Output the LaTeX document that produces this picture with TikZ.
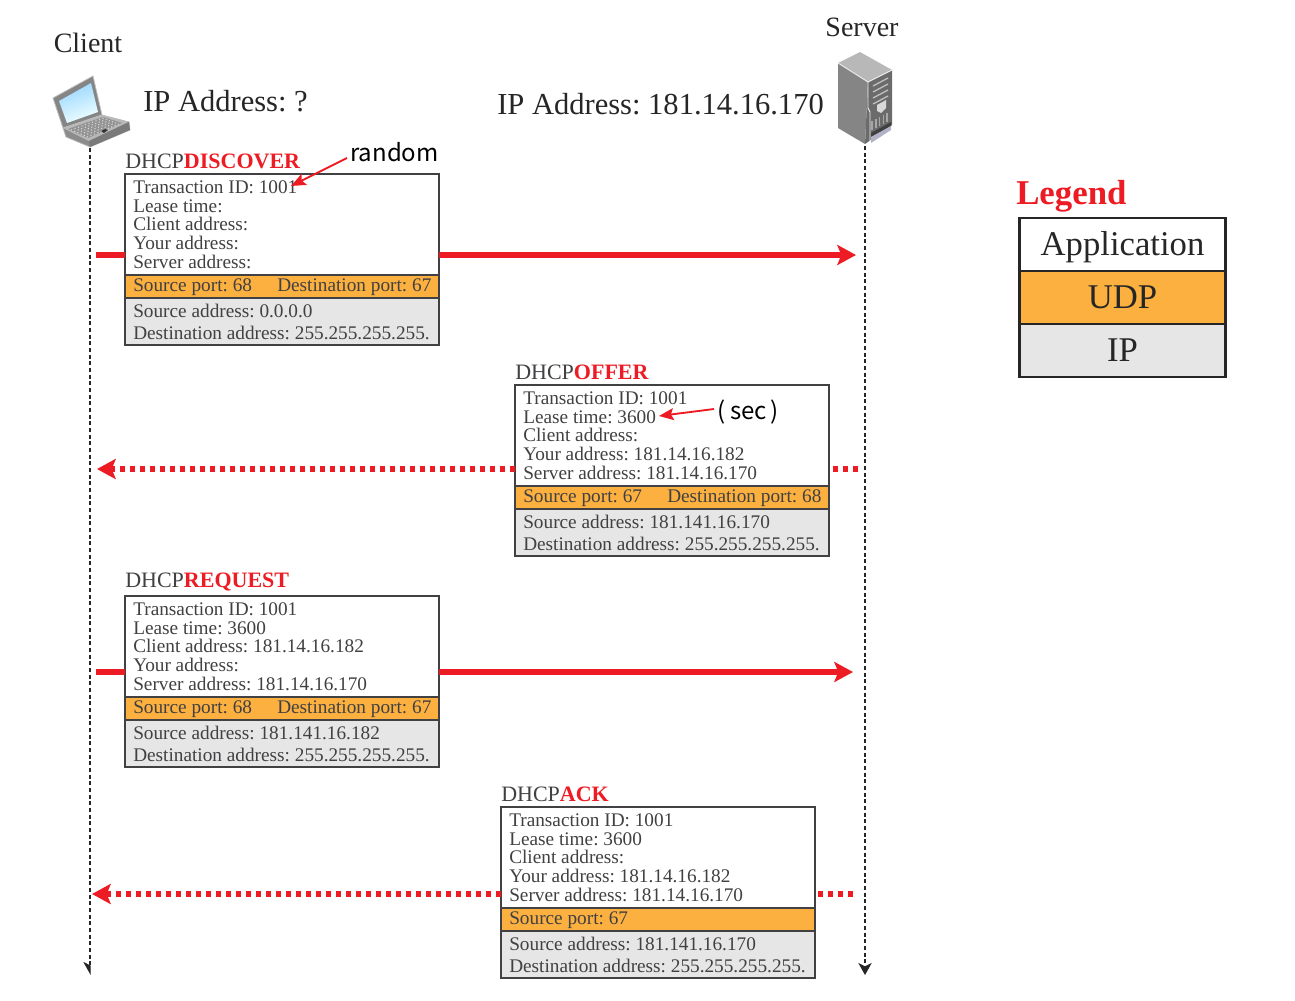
\documentclass[tikz,border=0pt]{standalone}
\usepackage{fontspec}
\setmainfont{Liberation Serif}
\newfontfamily\notefont{Noto Sans CJK JP}
\frenchspacing
\usetikzlibrary{arrows.meta,shadings}
\definecolor{msgred}{RGB}{237,28,36}
\definecolor{udporange}{RGB}{251,176,64}
\definecolor{ipgray}{RGB}{230,230,230}
\definecolor{inkgray}{RGB}{65,64,66}
\newcommand{\bodyfs}{\fontsize{14.45pt}{15pt}\selectfont}
\newcommand{\titlefs}{\fontsize{16.5pt}{18pt}\selectfont}
\newcommand{\MsgBox}[8]{%
  % #1 name, #2 x, #3 y, #4 title word, #5 app lines block, #6 src, #7 dst, #8 ip lines
  \begin{scope}[shift={(#2,#3)}]
    \node[framebox,minimum height={101*0.75pt},fill=white] (#1app) at (0,0) {};
    \node[framebox,minimum height={23*0.75pt},fill=udporange] (#1udp) at (#1app.south west) {};
    \node[framebox,minimum height={47*0.75pt},fill=ipgray] (#1ip) at (#1udp.south west) {};
    \node[msgtitle] (#1title) at (0,-5) {DHCP\textcolor{msgred}{\textbf{#4}}};
    \foreach \yy/\tt [count=\i] in {#5} {\node[msgline] (#1a\i) at (8,\yy) {\tt};}
    \node[msgline] (#1src) at (8,113.5) {#6};
    \node[msgline] (#1dst) at (152,113.5) {#7};
    \foreach \yy/\tt [count=\i] in {#8} {\node[msgline] (#1i\i) at (8,\yy) {\tt};}
  \end{scope}}
\tikzset{
  x=0.75pt,y=-0.75pt,
  framebox/.style={draw=inkgray,line width=1.3pt,anchor=north west,minimum width={314*0.75pt},inner sep=0pt,outer sep=0pt},
  msgtitle/.style={anchor=south west,inner sep=0pt,text=inkgray,font=\titlefs},
  msgline/.style={anchor=west,inner sep=0pt,text=inkgray,font=\bodyfs},
  headlabel/.style={inner sep=0pt,text=black!85},
  lifeline/.style={dash pattern=on 3pt off 2pt,line width=0.9pt,black!85},
  lifehead/.style={-{Stealth[length=9pt,width=10pt,inset=2.5pt]}},
  lifehalf/.style={-{Stealth[length=9pt,width=10pt,inset=2.5pt,harpoon,swap]}},
  reqline/.style={msgred,line width=3.9pt},
  reqarrow/.style={reqline,-{Stealth[length=14pt,width=15pt,inset=3pt]}},
  repline/.style={msgred,line width=3.9pt,dash pattern=on 3.9pt off 3.6pt},
  reparrow/.style={repline,-{Stealth[length=14pt,width=15pt,inset=3pt]}},
  notearrow/.style={msgred,line width=1.4pt,-{Stealth[length=11pt,width=9pt,inset=2pt]}},
  notelabel/.style={inner sep=0pt,font=\notefont\fontsize{18pt}{20pt}\selectfont,text=black},
  legendrow/.style={draw=black!85,line width=1.6pt,minimum width={206*0.75pt},minimum height={53*0.75pt},inner sep=0pt,outer sep=0pt,font=\fontsize{26pt}{28pt}\selectfont,text=black!85,text height=17pt,text depth=0pt},
}
\begin{document}
\begin{tikzpicture}
\useasboundingbox (0,0) rectangle (1295,1000);
\fill[white] (0,0) rectangle (1295,1000);

% ---- labels
\node[headlabel,font=\fontsize{21pt}{23pt}\selectfont] (clientlab) at (88,43) {Client};
\node[headlabel,font=\fontsize{21pt}{23pt}\selectfont] (serverlab) at (862,27) {Server};
\node[headlabel,anchor=west,font=\fontsize{22.9pt}{25pt}\selectfont] (clientip) at (143,101) {IP Address: ?};
\node[headlabel,anchor=west,font=\fontsize{22.9pt}{25pt}\selectfont] (serverip) at (497,104) {IP Address: 181.14.16.170};

% ---- laptop
\coordinate (lapfoot) at (90,148);
\filldraw[draw=black!25,fill=black!45,line width=.5pt] (63,128) -- (102,115) -- (129,122) -- (130,130) -- (90,147) -- (66,137) -- cycle;
\fill[black!28] (63,128) -- (102,115) -- (129,122) -- (89,141) -- cycle;
\fill[black!52] (89,141) -- (129,122) -- (130,130) -- (90,147) -- cycle;
\fill[black!42] (68,129) -- (103,117) -- (122,123) -- (88,138) -- cycle;
\foreach \t in {0,0.2,0.4,0.6,0.8,1}
  \draw[black!15,line width=.8pt,dotted] ({71+\t*16},{130+\t*7}) -- ({104+\t*15},{118+\t*6});
\fill[black!80] (101,131) -- (105,129) -- (108,130) -- (104,133) -- cycle;
\filldraw[draw=black!25,fill=black!48,line width=.6pt] (53,98) -- (93,76) -- (102,115) -- (63,128) -- cycle;
\shade[top color=cyan!60!blue!40,bottom color=cyan!6,shading angle=20] (59,101) -- (91,83) -- (98,112) -- (67,123) -- cycle;

% ---- server
\coordinate (srvfoot) at (865,146);
\fill[black!48] (838,63) -- (868,82) -- (865,144) -- (838,128) -- cycle;
\fill[black!28] (838,63) -- (860,52) -- (892,70) -- (868,82) -- cycle;
\fill[black!58] (868,82) -- (892,70) -- (892,125) -- (865,144) -- cycle;
\draw[black!8,line width=.7pt] (838,63) -- (868,82) -- (892,70);
\draw[black!8,line width=.7pt] (868,82) -- (868,108) -- (870,112) -- (870,142);
\foreach \k in {0,1,2,3}
  \draw[black!25,line width=1pt] (873,{86+\k*6}) -- (888,{78+\k*6});
\fill[black!15] (877,105) -- (886,100) -- (886,108) -- (881,113) -- (877,111) -- cycle;
\foreach \k in {0,1,2,3,4}
  \draw[black!35,line width=1.1pt] ({872+\k*3.8},{121-\k*2}) -- ({872+\k*3.8},{130-\k*2});
\fill[black!75] (871,133) -- (891,122) -- (891,126) -- (871,137) -- cycle;
\fill[blue!25!black!30] (871,137) -- (891,126) -- (891,130) -- (871,143) -- cycle;

% ---- lifelines
\coordinate (cliend) at (90,975);
\coordinate (srvend) at (865,975);
\draw[lifeline,lifehalf] (lapfoot) -- (cliend);
\draw[lifeline,lifehead] (srvfoot) -- (srvend);

% ---- messages
\MsgBox{d}{125}{174}{DISCOVER}{13/Transaction ID: 1001,32.5/Lease time:,50/Client address:,69/Your address:,88/Server address:}{Source port: 68}{Destination port: 67}{137/Source address: 0.0.0.0,159/Destination address: 255.255.255.255.}
\MsgBox{o}{515}{385}{OFFER}{13/Transaction ID: 1001,32.5/Lease time: 3600,50/Client address:,69/Your address: 181.14.16.182,88/Server address: 181.14.16.170}{Source port: 67}{Destination port: 68}{137/Source address: 181.141.16.170,159/Destination address: 255.255.255.255.}
\MsgBox{r}{125}{596}{REQUEST}{13/Transaction ID: 1001,32.5/Lease time: 3600,50/Client address: 181.14.16.182,69/Your address:,88/Server address: 181.14.16.170}{Source port: 68}{Destination port: 67}{137/Source address: 181.141.16.182,159/Destination address: 255.255.255.255.}
\MsgBox{a}{501}{807}{ACK}{13/Transaction ID: 1001,32.5/Lease time: 3600,50/Client address:,69/Your address: 181.14.16.182,88/Server address: 181.14.16.170}{Source port: 67}{}{137/Source address: 181.141.16.170,159/Destination address: 255.255.255.255.}

% ---- connectors
\coordinate (dl) at (96,255);  \coordinate (dr) at (856,255);
\draw[reqline] (dl) -- (dapp.west |- dl);
\draw[reqarrow] (dapp.east |- dr) -- (dr);
\coordinate (ol) at (97,469);  \coordinate (or) at (858,469);
\draw[repline] (or) -- (oapp.east |- or);
\draw[reparrow] (oapp.west |- ol) -- (ol);
\coordinate (rl) at (96,672);  \coordinate (rr) at (853,672);
\draw[reqline] (rl) -- (rapp.west |- rl);
\draw[reqarrow] (rapp.east |- rr) -- (rr);
\coordinate (al) at (92,894);  \coordinate (ar) at (853,894);
\draw[repline] (ar) -- (aapp.east |- ar);
\draw[reparrow] (aapp.west |- al) -- (al);

% ---- notes
\node[notelabel,anchor=west] (rand) at (350,152) {random};
\coordinate (randtip) at (291,186);
\draw[notearrow] (rand.west) ++(-3,6) -- (randtip);
\node[notelabel,anchor=west] (sec) at (717,412) {(\hspace{3.5pt}sec\hspace{3pt})};
\coordinate (sectip) at (659,416);
\draw[notearrow] (sec.west) ++(-3,-3) -- (sectip);

% ---- legend
\node[inner sep=0pt,anchor=west,text=msgred,font=\fontsize{26.1pt}{29pt}\selectfont\bfseries] (legtitle) at (1016,196) {Legend};
\node[legendrow,fill=white,anchor=north west] (legapp) at (1019.5,218) {Application};
\node[legendrow,fill=udporange,anchor=north west] (legudp) at (legapp.south west) {UDP};
\node[legendrow,fill=ipgray,anchor=north west] (legip) at (legudp.south west) {IP};
\end{tikzpicture}
\end{document}
